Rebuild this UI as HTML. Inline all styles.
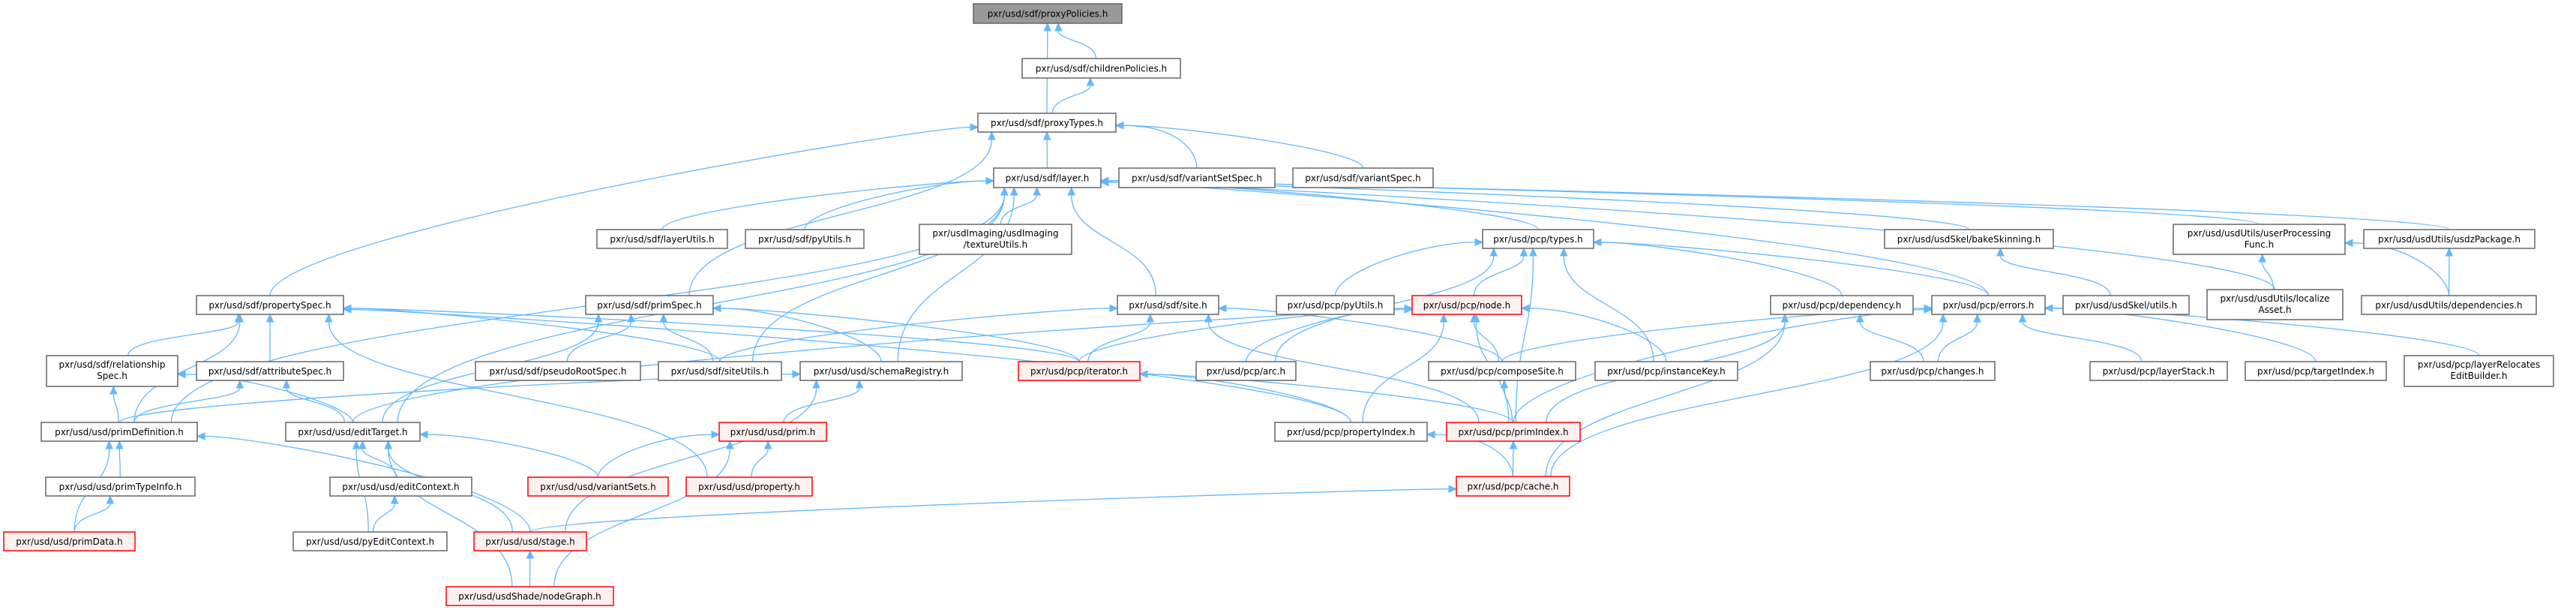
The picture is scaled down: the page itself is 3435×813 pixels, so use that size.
<!DOCTYPE html>
<html><head><meta charset="utf-8">
<style>
html,body{margin:0;padding:0;background:#fff;}
svg{display:block;}
text{font-family:"DejaVu Sans","Liberation Sans",sans-serif;font-size:12px;fill:#000;text-anchor:middle;}
.n rect{fill:#fff;stroke:#666;stroke-width:1.5;}
.r rect{fill:#fff0f0;stroke:#f00;stroke-width:1.5;}
.g rect{fill:#999;stroke:#666;stroke-width:1.5;}
#edges path{fill:none;stroke:#63b8ff;stroke-width:1.3;}
#edges polygon{fill:#63b8ff;stroke:#63b8ff;stroke-width:1;}
</style></head>
<body>
<svg id="s" width="3435" height="813" viewBox="0 0 3435 813" xmlns="http://www.w3.org/2000/svg">
<g id="edges"></g>
<g id="nodes">
<g class="g"><rect x="1298" y="5" width="198" height="26"/><text x="1397" y="22.5">pxr/usd/sdf/proxyPolicies.h</text></g>
<g class="n"><rect x="1363" y="78" width="211" height="26"/><text x="1468.5" y="95.5">pxr/usd/sdf/childrenPolicies.h</text></g>
<g class="n"><rect x="1304" y="151" width="184" height="25"/><text x="1396" y="168">pxr/usd/sdf/proxyTypes.h</text></g>
<g class="n"><rect x="1325" y="224" width="143" height="26"/><text x="1396.5" y="241.5">pxr/usd/sdf/layer.h</text></g>
<g class="n"><rect x="1492" y="224" width="208" height="26"/><text x="1596" y="241.5">pxr/usd/sdf/variantSetSpec.h</text></g>
<g class="n"><rect x="1724" y="224" width="187" height="26"/><text x="1817.5" y="241.5">pxr/usd/sdf/variantSpec.h</text></g>
<g class="n"><rect x="796" y="306" width="174" height="25"/><text x="883" y="323">pxr/usd/sdf/layerUtils.h</text></g>
<g class="n"><rect x="994" y="306" width="158" height="25"/><text x="1073" y="323">pxr/usd/sdf/pyUtils.h</text></g>
<g class="n"><rect x="1226" y="299" width="203" height="40"/><text x="1327.5" y="315">pxr/usdImaging/usdImaging</text><text x="1327.5" y="330">/textureUtils.h</text></g>
<g class="n"><rect x="1977" y="306" width="148" height="25"/><text x="2051" y="323">pxr/usd/pcp/types.h</text></g>
<g class="n"><rect x="2513" y="306" width="225" height="25"/><text x="2625.5" y="323">pxr/usd/usdSkel/bakeSkinning.h</text></g>
<g class="n"><rect x="2898" y="299" width="229" height="40"/><text x="3012.5" y="315">pxr/usd/usdUtils/userProcessing</text><text x="3012.5" y="330">Func.h</text></g>
<g class="n"><rect x="3152" y="306" width="228" height="25"/><text x="3266" y="323">pxr/usd/usdUtils/usdzPackage.h</text></g>
<g class="n"><rect x="262" y="394" width="196" height="25"/><text x="360" y="411">pxr/usd/sdf/propertySpec.h</text></g>
<g class="n"><rect x="781" y="394" width="170" height="25"/><text x="866" y="411">pxr/usd/sdf/primSpec.h</text></g>
<g class="n"><rect x="1490" y="394" width="135" height="25"/><text x="1557.5" y="411">pxr/usd/sdf/site.h</text></g>
<g class="n"><rect x="1702" y="394" width="157" height="25"/><text x="1780.5" y="411">pxr/usd/pcp/pyUtils.h</text></g>
<g class="r"><rect x="1883" y="394" width="146" height="25"/><text x="1956" y="411">pxr/usd/pcp/node.h</text></g>
<g class="n"><rect x="2361" y="394" width="190" height="25"/><text x="2456" y="411">pxr/usd/pcp/dependency.h</text></g>
<g class="n"><rect x="2576" y="394" width="151" height="25"/><text x="2651.5" y="411">pxr/usd/pcp/errors.h</text></g>
<g class="n"><rect x="2751" y="394" width="168" height="25"/><text x="2835" y="411">pxr/usd/usdSkel/utils.h</text></g>
<g class="n"><rect x="2943" y="386" width="181" height="40"/><text x="3033.5" y="402">pxr/usd/usdUtils/localize</text><text x="3033.5" y="417">Asset.h</text></g>
<g class="n"><rect x="3149" y="394" width="233" height="25"/><text x="3265.5" y="411">pxr/usd/usdUtils/dependencies.h</text></g>
<g class="n"><rect x="62" y="474" width="175" height="41"/><text x="149.5" y="490">pxr/usd/sdf/relationship</text><text x="149.5" y="505">Spec.h</text></g>
<g class="n"><rect x="262" y="482" width="196" height="25"/><text x="360" y="499">pxr/usd/sdf/attributeSpec.h</text></g>
<g class="n"><rect x="634" y="482" width="220" height="25"/><text x="744" y="499">pxr/usd/sdf/pseudoRootSpec.h</text></g>
<g class="n"><rect x="878" y="482" width="164" height="25"/><text x="960" y="499">pxr/usd/sdf/siteUtils.h</text></g>
<g class="n"><rect x="1067" y="482" width="216" height="25"/><text x="1175" y="499">pxr/usd/usd/schemaRegistry.h</text></g>
<g class="r"><rect x="1358" y="482" width="162" height="25"/><text x="1439" y="499">pxr/usd/pcp/iterator.h</text></g>
<g class="n"><rect x="1595" y="482" width="133" height="25"/><text x="1661.5" y="499">pxr/usd/pcp/arc.h</text></g>
<g class="n"><rect x="1905" y="482" width="196" height="25"/><text x="2003" y="499">pxr/usd/pcp/composeSite.h</text></g>
<g class="n"><rect x="2127" y="482" width="190" height="25"/><text x="2222" y="499">pxr/usd/pcp/instanceKey.h</text></g>
<g class="n"><rect x="2494" y="482" width="166" height="25"/><text x="2577" y="499">pxr/usd/pcp/changes.h</text></g>
<g class="n"><rect x="2787" y="482" width="183" height="25"/><text x="2878.5" y="499">pxr/usd/pcp/layerStack.h</text></g>
<g class="n"><rect x="2994" y="482" width="188" height="25"/><text x="3088" y="499">pxr/usd/pcp/targetIndex.h</text></g>
<g class="n"><rect x="3206" y="474" width="199" height="41"/><text x="3305.5" y="490">pxr/usd/pcp/layerRelocates</text><text x="3305.5" y="505">EditBuilder.h</text></g>
<g class="n"><rect x="55" y="563" width="208" height="25"/><text x="159" y="580">pxr/usd/usd/primDefinition.h</text></g>
<g class="n"><rect x="381" y="563" width="179" height="25"/><text x="470.5" y="580">pxr/usd/usd/editTarget.h</text></g>
<g class="r"><rect x="959" y="563" width="143" height="25"/><text x="1030.5" y="580">pxr/usd/usd/prim.h</text></g>
<g class="n"><rect x="1700" y="563" width="203" height="25"/><text x="1801.5" y="580">pxr/usd/pcp/propertyIndex.h</text></g>
<g class="r"><rect x="1929" y="563" width="178" height="25"/><text x="2018" y="580">pxr/usd/pcp/primIndex.h</text></g>
<g class="n"><rect x="61" y="636" width="199" height="25"/><text x="160.5" y="653">pxr/usd/usd/primTypeInfo.h</text></g>
<g class="n"><rect x="440" y="636" width="189" height="25"/><text x="534.5" y="653">pxr/usd/usd/editContext.h</text></g>
<g class="r"><rect x="704" y="636" width="187" height="25"/><text x="797.5" y="653">pxr/usd/usd/variantSets.h</text></g>
<g class="r"><rect x="915" y="636" width="168" height="25"/><text x="999" y="653">pxr/usd/usd/property.h</text></g>
<g class="r"><rect x="1942" y="635" width="151" height="26"/><text x="2017.5" y="652.5">pxr/usd/pcp/cache.h</text></g>
<g class="r"><rect x="5" y="709" width="175" height="25"/><text x="92.5" y="726">pxr/usd/usd/primData.h</text></g>
<g class="n"><rect x="391" y="709" width="205" height="25"/><text x="493.5" y="726">pxr/usd/usd/pyEditContext.h</text></g>
<g class="r"><rect x="632" y="709" width="150" height="25"/><text x="707" y="726">pxr/usd/usd/stage.h</text></g>
<g class="r"><rect x="595" y="782" width="223" height="25"/><text x="706.5" y="799">pxr/usd/usdShade/nodeGraph.h</text></g>
</g>
</svg>
<script>
(function(){
var N={pp:[1298,5,1496,31],cp:[1363,78,1574,104],pt:[1304,151,1488,176],layer:[1325,224,1468,250],vss:[1492,224,1700,250],vs:[1724,224,1911,250],
lu:[796,306,970,331],spy:[994,306,1152,331],tex:[1226,299,1429,339],types:[1977,306,2125,331],bake:[2513,306,2738,331],upf:[2898,299,3127,339],usdz:[3152,306,3380,331],
ps:[262,394,458,419],prs:[781,394,951,419],site:[1490,394,1625,419],ppy:[1702,394,1859,419],node:[1883,394,2029,419],dep:[2361,394,2551,419],err:[2576,394,2727,419],sku:[2751,394,2919,419],loc:[2943,386,3124,426],deps:[3149,394,3382,419],
rel:[62,474,237,515],as:[262,482,458,507],pr:[634,482,854,507],su:[878,482,1042,507],sr:[1067,482,1283,507],it:[1358,482,1520,507],arc:[1595,482,1728,507],cs:[1905,482,2101,507],ik:[2127,482,2317,507],ch:[2494,482,2660,507],ls:[2787,482,2970,507],ti:[2994,482,3182,507],lr:[3206,474,3405,515],
pd:[55,563,263,588],et:[381,563,560,588],prim:[959,563,1102,588],pi:[1700,563,1903,588],pidx:[1929,563,2107,588],
pti:[61,636,260,661],ec:[440,636,629,661],vsets:[704,636,891,661],prop:[915,636,1083,661],cache:[1942,635,2093,661],
pdata:[5,709,180,734],pec:[391,709,596,734],stage:[632,709,782,734],ng:[595,782,818,807]};
var E=[["pt","pp"],["cp","pp"],["pt","cp"],["layer","pt"],["vss","pt"],["vs","pt"],["ps","pt"],["prs","pt"],
["lu","layer"],["spy","layer"],["tex","layer"],["site","layer"],["sr","layer"],["su","layer"],["pd","layer"],["et","layer"],["types","layer"],["bake","layer"],["upf","layer"],["usdz","layer"],["err","layer"],["loc","layer"],
["rel","ps"],["as","ps"],["pd","ps"],["su","ps"],["prop","ps"],["it","ps"],["pi","ps"],
["pr","prs"],["su","prs"],["et","prs"],["sr","prs"],["it","prs"],
["pd","rel"],["et","rel"],["pd","as"],["et","as"],
["pd","sr"],["prim","sr"],["stage","sr"],
["pti","pd"],["pdata","pd"],["stage","pd"],["pdata","pti"],
["ec","et"],["pec","et"],["vsets","et"],["stage","et"],["ng","et"],["pec","ec"],
["vsets","prim"],["prop","prim"],["ng","prim"],["ng","stage"],["stage","cache"],
["su","site"],["it","site"],["pidx","site"],["cs","site"],
["ppy","types"],["node","types"],["arc","types"],["ik","types"],["dep","types"],["err","types"],["pidx","types"],
["it","node"],["arc","node"],["cs","node"],["ik","node"],["et","node"],["pi","node"],["pidx","node"],
["pidx","it"],["pi","it"],["pidx","cs"],["cache","pi"],["cache","pidx"],
["ch","dep"],["pidx","dep"],["cache","dep"],
["ch","err"],["ls","err"],["ti","err"],["lr","err"],["pidx","err"],["cs","err"],["cache","err"],
["sku","bake"],["loc","upf"],["deps","upf"],["deps","usdz"]];
var g=document.getElementById("edges"),ns="http://www.w3.org/2000/svg",out="";
E.forEach(function(e){
 var c=N[e[0]],p=N[e[1]];
 var ccx=(c[0]+c[2])/2,pcx=(p[0]+p[2])/2;
 var sx,sy,tx,ty,c1x,c1y,c2x,c2y,dxn,dyn;
 var dy=c[1]-p[3],dx=ccx-pcx;
 if(dy>5 && Math.abs(dx)<dy*4){
  sx=ccx+Math.max(-(c[2]-c[0])/3,Math.min((c[2]-c[0])/3,-dx*0.1));sy=c[1];
  tx=pcx+Math.max(-(p[2]-p[0])*0.4,Math.min((p[2]-p[0])*0.4,dx*0.2));ty=p[3];
  var h=(sy-ty)/2;c1x=sx;c1y=sy-h;c2x=tx;c2y=ty+h;
  dxn=0;dyn=-1; var L=Math.hypot(tx-c2x,ty-c2y);dxn=(tx-c2x)/L;dyn=(ty-c2y)/L;
 } else {
  var right=dx>0;
  tx=right?p[2]:p[0];ty=(p[1]+p[3])/2+Math.max(-6,Math.min(6,(c[1]-p[1])*0.05));
  if(dy>5){sx=ccx-dx*0.0;sy=c[1];c1x=sx;c1y=sy-Math.min(80,dy/2);}
  else {sx=right?c[0]:c[2];sy=(c[1]+c[3])/2;c1x=sx+(right?-60:60);c1y=sy;}
  c2x=tx+(right?80:-80);c2y=ty;
  var L2=Math.hypot(tx-c2x,ty-c2y);dxn=(tx-c2x)/L2;dyn=(ty-c2y)/L2;
 }
 var al=10,aw=4.5,bx=tx-dxn*al,by=ty-dyn*al;
 out+='<path d="M'+sx.toFixed(1)+','+sy.toFixed(1)+' C'+c1x.toFixed(1)+','+c1y.toFixed(1)+' '+c2x.toFixed(1)+','+c2y.toFixed(1)+' '+bx.toFixed(1)+','+by.toFixed(1)+'"/>';
 out+='<polygon points="'+tx.toFixed(1)+','+ty.toFixed(1)+' '+(bx-dyn*aw).toFixed(1)+','+(by+dxn*aw).toFixed(1)+' '+(bx+dyn*aw).toFixed(1)+','+(by-dxn*aw).toFixed(1)+'"/>';
});
g.innerHTML=out;
})();
</script>
</body></html>
